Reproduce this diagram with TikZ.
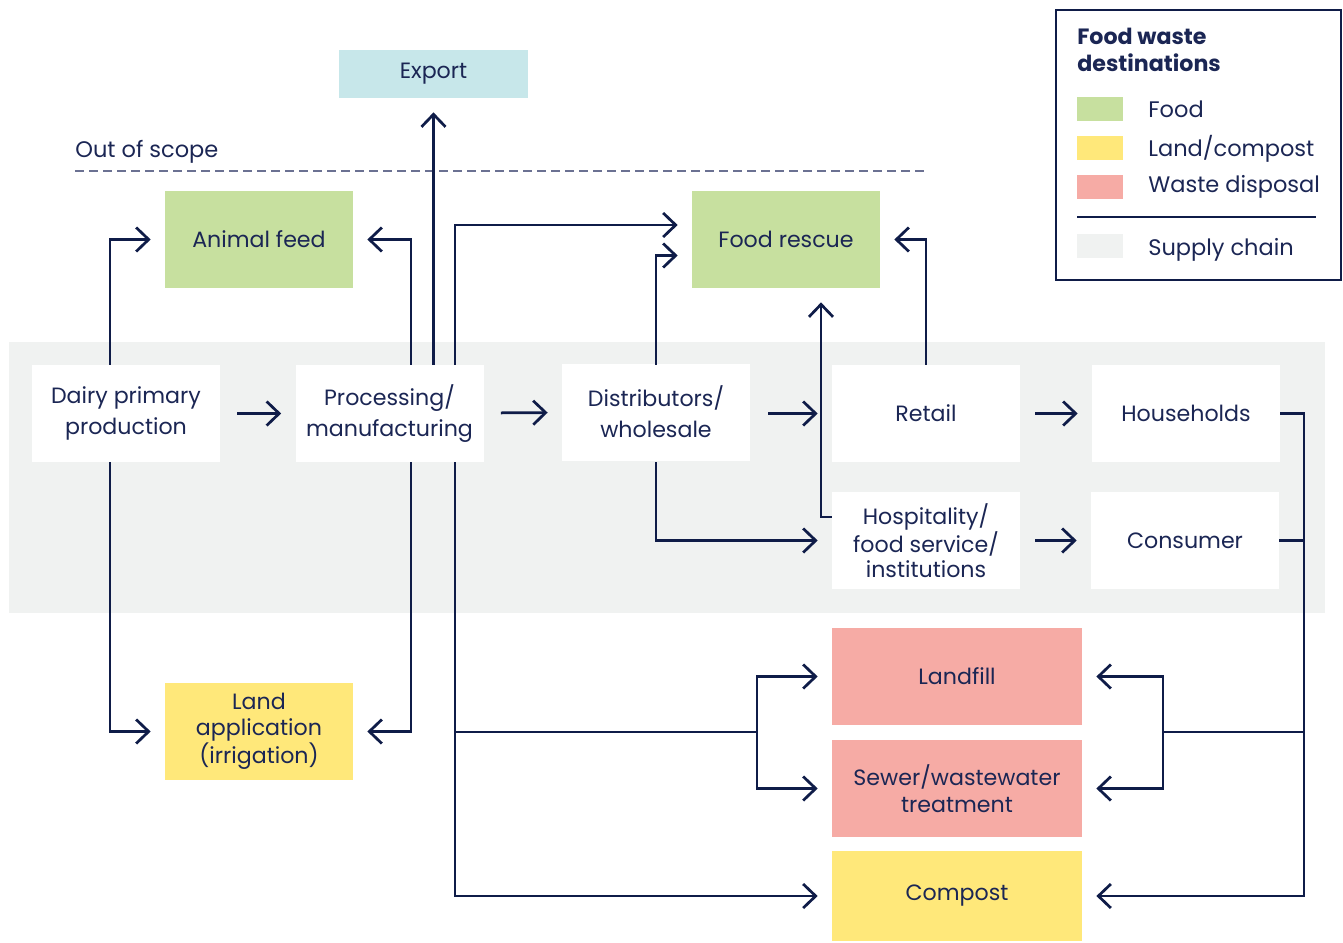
\documentclass[tikz,border=0pt]{standalone}
\usepackage{fontspec}
\setmainfont{Poppins}
\usetikzlibrary{arrows.meta}

\definecolor{navy}{HTML}{0F1C48}
\definecolor{inkblue}{HTML}{1B2654}
\definecolor{foodgreen}{HTML}{C7E09F}
\definecolor{landyellow}{HTML}{FFE87A}
\definecolor{wastepink}{HTML}{F6ABA5}
\definecolor{chaingrey}{HTML}{F0F2F1}
\definecolor{exportblue}{HTML}{C7E7EA}
\definecolor{scopegrey}{HTML}{6B7192}

\tikzset{
  box/.style={minimum width=37.6mm, minimum height=19.4mm, inner sep=0pt, align=center,
    text=inkblue, font=\fontsize{12.6}{17.6}\selectfont},
  chainbox/.style={box, fill=white},
  foodbox/.style={box, fill=foodgreen},
  landbox/.style={box, fill=landyellow, font=\fontsize{12.6}{15}\selectfont},
  wastebox/.style={box, fill=wastepink, minimum width=50mm, font=\fontsize{12.6}{15.2}\selectfont},
  legtext/.style={anchor=base west, inner sep=0pt, text=inkblue, font=\fontsize{12.8}{15}\selectfont},
  flow/.style={draw=navy, line width=0.55mm, -{Straight Barb[length=2.5mm,width=4.8mm]}, shorten >=2.8mm},
  link/.style={draw=navy, line width=0.55mm},
}

\begin{document}
\begin{tikzpicture}[x=0.2mm, y=-0.2mm]
    \useasboundingbox (0,0) rectangle (1343,942);

    % supply chain band
    \fill[chaingrey] (9,342) rectangle (1325,613);

    \node[chainbox] (dairy)  at (126,413.5)  {Dairy primary\\production};
    \node[chainbox] (proc)   at (389.5,413.5) {Processing/\\manufacturing};
    \node[chainbox] (dist)   at (656,412)  {Distributors/\\wholesale};
    \node[chainbox] (retail) at (926,413.5)  {Retail};
    \node[chainbox] (house)  at (1186,413.5) {Households};
    \node[chainbox, font=\fontsize{12.6}{14.4}\selectfont] (hosp) at (926,540.5) {Hospitality/\\food service/\\institutions};
    \node[chainbox] (cons)   at (1185,540.5) {Consumer};

    % destinations
    \node[box, fill=exportblue, minimum width=37.8mm, minimum height=9.6mm] (export) at (433.5,74) {Export};
    \node[foodbox] (feed)   at (259,239.5) {Animal feed};
    \node[foodbox] (rescue) at (786,239.5) {Food rescue};
    \node[landbox] (land)   at (259,731.5) {Land\\application\\(irrigation)};
    \node[wastebox] (landfill) at (957,676.5) {Landfill};
    \node[wastebox] (sewer)    at (957,788.5) {Sewer/wastewater\\treatment};
    \node[wastebox, fill=landyellow, minimum height=18mm] (compost) at (957,896) {Compost};

    \node[legtext] (scope) at (75,157) {Out of scope};
    \draw[scopegrey, line width=0.4mm, dash pattern=on 1.8mm off 1mm] (75,171) -- (928,171);

    % along the chain
    \draw[flow, shorten <=3.4mm] (dairy) -- (proc);
    \draw[flow, shorten <=3.4mm] (proc) -- (dist);
    \draw[flow, shorten <=3.6mm] (dist.east |- retail) -- (retail);
    \draw[flow, shorten <=3mm] (retail) -- (house);
    \draw[flow, shorten <=3mm] (hosp) -- (cons);

    \draw[flow] ([xshift=-3.2mm]dairy.north) |- (feed.west);
    \draw[flow] ([xshift=-3.2mm]dairy.south) |- (land.west);
    \draw[flow] ([xshift=4.3mm]proc.north) |- (feed.east);
    \draw[flow] ([xshift=4.3mm]proc.south) |- (land.east);
    \draw[flow] (proc.north -| export) -- (export.south);
    \draw[flow] ([xshift=13.1mm]proc.north) |- ([yshift=2.9mm]rescue.west);
    \draw[flow] (dist.north |- proc.north) |- ([yshift=-3.2mm]rescue.west);
    \draw[flow] (dist.south |- proc.south) |- (hosp.west);
    \draw[flow] ([yshift=4.7mm]hosp.west) -| ([xshift=7mm]rescue.south);
    \draw[flow] (retail.north) |- (rescue.east);

    % to disposal
    \coordinate (pdrop) at ([xshift=13.1mm]proc.south);
    \coordinate (lsplit) at (757,732);
    \coordinate (rbus) at (1304,896);
    \coordinate (rsplit) at (1163,732);
    \draw[flow] (pdrop) |- (compost.west);
    \draw[link] (pdrop |- lsplit) -- (lsplit);
    \draw[flow] (lsplit) |- (landfill.west);
    \draw[flow] (lsplit) |- (sewer.west);
    \draw[flow] (house.east) -| (rbus) -- (compost.east);
    \draw[link] (cons.east) -- (cons.east -| rbus);
    \draw[link] (rsplit -| rbus) -- (rsplit);
    \draw[flow] (rsplit) |- (landfill.east);
    \draw[flow] (rsplit) |- (sewer.east);

    % legend
    \draw[navy, line width=0.3mm] (1056,10) rectangle (1341,280);
    \node[anchor=north west, inner sep=0pt, align=left, text=inkblue,
      font=\fontsize{12.6}{15.2}\bfseries] (legtitle) at (1077,28) {Food waste\\destinations};
    \fill[foodgreen]  (1077,97) rectangle (1123,121);
    \fill[landyellow] (1077,136) rectangle (1123,160);
    \fill[wastepink]  (1077,175) rectangle (1123,199);
    \fill[chaingrey]  (1077,234) rectangle (1123,258);
    \draw[navy, line width=0.3mm] (1077,217) -- (1316,217);
    \node[legtext] (legfood)  at (1148,117) {Food};
    \node[legtext] (legland)  at (1148,156) {Land/compost};
    \node[legtext] (legwaste) at (1148,192) {Waste disposal};
    \node[legtext] (legchain) at (1148,255) {Supply chain};
\end{tikzpicture}
\end{document}
